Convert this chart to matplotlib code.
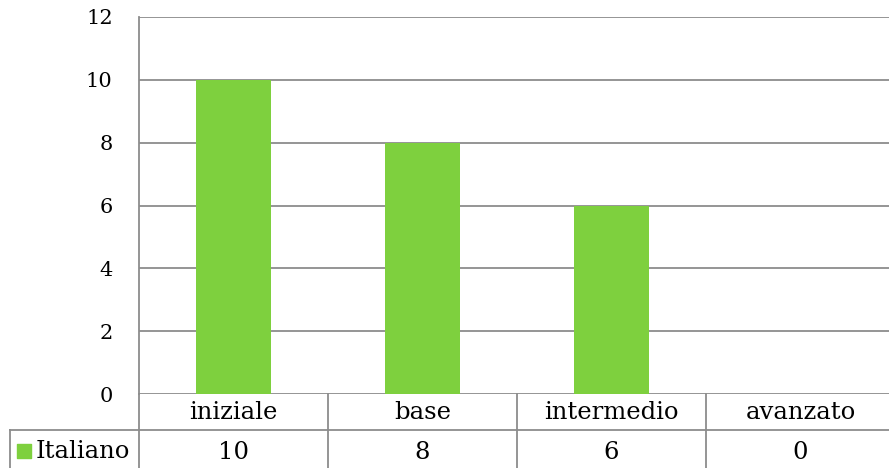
import matplotlib.pyplot as plt

categories = ["iniziale", "base", "intermedio", "avanzato"]
values = [10, 8, 6, 0]
series_name = "Italiano"
yticks = [0, 2, 4, 6, 8, 10, 12]

GREEN = "#7ed03e"
GRID = "#8c8c8c"
FONT = "DejaVu Serif"

W, H = 889, 468
fig = plt.figure(figsize=(W / 100, H / 100), dpi=100)


def px_box(left, top, right, bottom):
    return [left / W, 1 - bottom / H, (right - left) / W, (bottom - top) / H]


# bar chart (the plot area runs a little past the right edge, as in the source)
ax = fig.add_axes(px_box(139, 17, 895, 394))
x = range(len(categories))
ax.bar(x, values, width=0.4, color=GREEN, zorder=3)
ax.set_xlim(-0.5, len(categories) - 0.5)
ax.set_ylim(0, 12)
ax.set_yticks(yticks)
ax.set_yticklabels([str(t) for t in yticks], fontfamily=FONT, fontsize=15)
ax.tick_params(axis="y", length=0, pad=19)
ax.set_xticks([])
ax.grid(axis="y", color=GRID, linewidth=1.3, zorder=0)
for side in ["top", "right", "bottom"]:
    ax.spines[side].set_visible(False)
ax.spines["left"].set_color(GRID)
ax.spines["left"].set_linewidth(1.3)

# data table under the chart
cat_px = (895 - 139) / len(categories)
legend_w = (139 - 10) / cat_px
tab = fig.add_axes(px_box(10, 394, 895, 468))
tab.set_xlim(-0.5 - legend_w, len(categories) - 0.5)
tab.set_ylim(0, 2)
tab.axis("off")

line_kw = dict(color=GRID, linewidth=1.3, clip_on=False)
tab.plot([-0.5 - legend_w, len(categories) - 0.5], [1.03, 1.03], **line_kw)
tab.plot([-0.5 - legend_w, -0.5 - legend_w], [0, 1.03], **line_kw)
for i in range(len(categories) + 1):
    tab.plot([i - 0.5, i - 0.5], [0, 2], **line_kw)

for i, (cat, val) in enumerate(zip(categories, values)):
    tab.text(i, 1.5, cat, ha="center", va="center", fontfamily=FONT, fontsize=17.5)
    tab.text(i, 0.42, str(val), ha="center", va="center", fontfamily=FONT, fontsize=17.5)

left = -0.5 - legend_w
tab.scatter([left + 14 / cat_px], [0.46], marker="s", s=95, color=GREEN, clip_on=False)
tab.text(left + 26 / cat_px, 0.44, series_name, ha="left", va="center",
         fontfamily=FONT, fontsize=17.5)

fig.savefig("out.png", dpi=100)
